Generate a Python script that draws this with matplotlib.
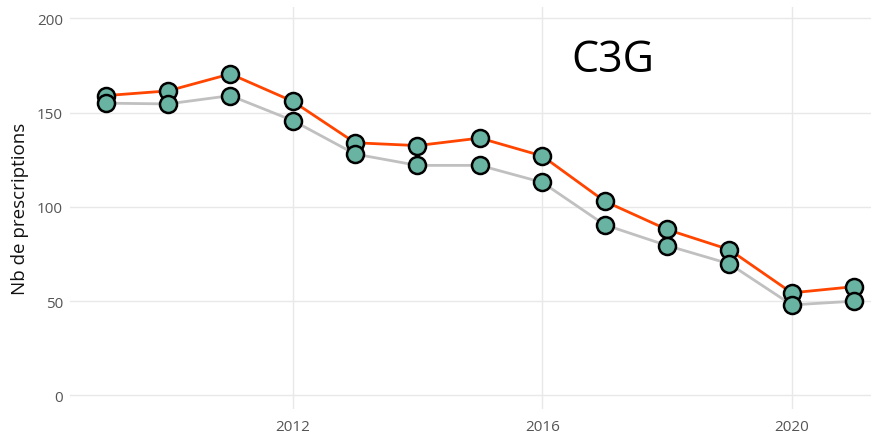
import matplotlib.pyplot as plt

years = [2009, 2010, 2011, 2012, 2013, 2014, 2015, 2016, 2017, 2018, 2019, 2020, 2021]
orange_vals = [159, 161.5, 170.5, 156, 134, 132.5, 136.5, 127, 103, 88, 77.3, 54.4, 57.7]
grey_vals = [155, 154.6, 159, 145.8, 128, 122, 122, 113, 90.5, 79.5, 69.8, 48, 50]
x_ticks = [2012, 2016, 2020]
y_ticks = [0, 50, 100, 150, 200]

plt.rcParams['font.family'] = ['Open Sans', 'DejaVu Sans']

fig = plt.figure(figsize=(8.71, 4.39), dpi=100)
ax = fig.add_axes([70 / 871, 29 / 439, 801 / 871, 402 / 439])

# lines first, markers on top (grey markers drawn last)
ax.plot(years, grey_vals, color="#c0c0c0", lw=2, zorder=2)
ax.plot(years, orange_vals, color="#ff4500", lw=2, zorder=3)
for vals in [orange_vals, grey_vals]:
    ax.scatter(years, vals, s=150, color="#69b3a2", edgecolor="black", linewidth=1.8, zorder=4)

ax.set_xlim(2008.43, 2021.27)
ax.set_ylim(-7.2, 206)
ax.set_xticks(x_ticks)
ax.set_yticks(y_ticks)
ax.grid(True, color="#e8e8e8", lw=1)
ax.set_axisbelow(True)
for s in ax.spines.values():
    s.set_visible(False)
ax.tick_params(length=0, labelsize=11, colors="#555555", pad=5)
ax.tick_params(axis="x", pad=7)
ax.set_ylabel("Nb de prescriptions", fontsize=13.5, color="#111111", labelpad=6)

ax.text(2017.13, 178, "C3G", fontsize=31, color="black", ha="center", va="center")

plt.savefig("out.png", dpi=100)
